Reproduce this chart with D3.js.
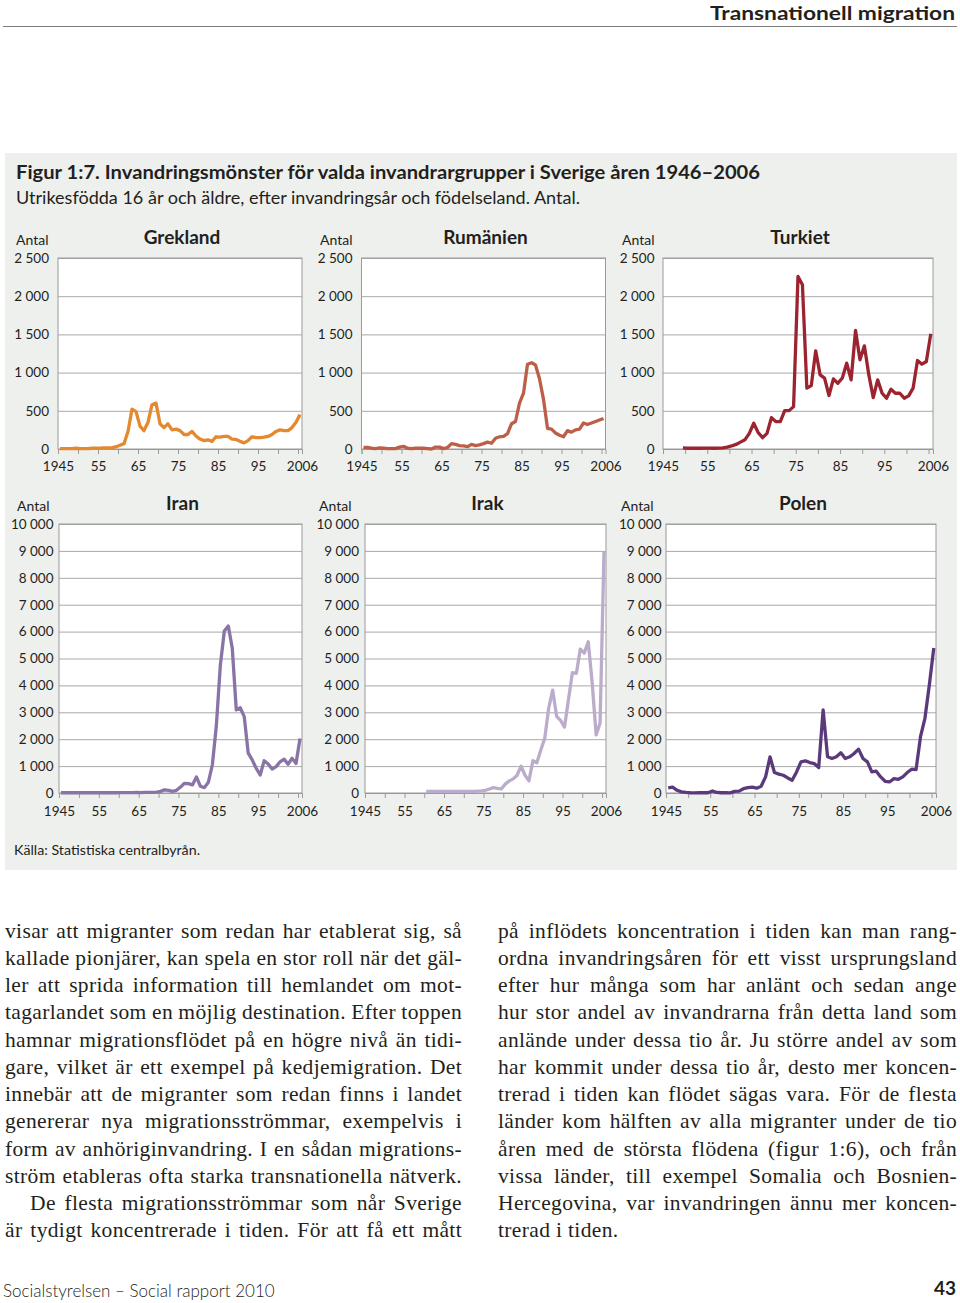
<!DOCTYPE html>
<html>
<head>
<meta charset="utf-8">
<script src="https://cdn.jsdelivr.net/npm/d3@7"></script>
<style>
  body { margin: 0; background: #fff; }
  svg { display: block; }
</style>
</head>
<body>
<div id="page"></div>
<script>
// Data: immigrants aged 16+ by year of immigration, 1946-2006
const years = d3.range(1946, 2007)

const grekland = [
  5, 5, 5, 5, 10, 5, 5, 5, 10, 10,
  10, 15, 15, 15, 30, 50, 70, 230, 520, 490,
  300, 240, 350, 580, 600, 330, 280, 330, 250, 260,
  240, 190, 190, 230, 170, 130, 110, 120, 100, 160,
  155, 165, 165, 130, 125, 100, 80, 110, 160, 150,
  150, 155, 165, 190, 230, 250, 240, 240, 280, 350, 450
]
const rumanien = [
  20, 20, 10, 5, 15, 10, 5, 5, 5, 25,
  35, 10, 5, 10, 10, 10, 5, 0, 25, 25,
  5, 20, 70, 60, 45, 40, 30, 60, 45, 55,
  70, 90, 75, 140, 160, 165, 200, 330, 360, 600,
  730, 1110, 1130, 1100, 920, 650, 270, 260, 210, 180,
  160, 240, 220, 250, 260, 340, 320, 340, 360, 380, 400
]
const turkiet = [
  null, null, null, null, 15, 10, 10, 10, 10, 12,
  12, 10, 12, 15, 25, 40, 60, 90, 120, 205,
  337, 214, 148, 205, 411, 358, 358, 502, 502, 555,
  2259, 2150, 796, 830, 1285, 970, 927, 700, 918, 861,
  927, 1124, 905, 1551, 1167, 1350, 970, 673, 905, 730,
  665, 783, 730, 730, 665, 695, 796, 1158, 1110, 1145, 1508
]
const iran = [
  10, 10, 10, 10, 10, 10, 10, 10, 10, 10,
  10, 10, 10, 10, 10, 15, 15, 15, 15, 20,
  15, 20, 25, 25, 30, 60, 120, 100, 60, 100,
  220, 360, 350, 300, 600, 250, 200, 400, 1050, 2500,
  4750, 6020, 6210, 5380, 3090, 3170, 2840, 1480, 1230, 920,
  670, 1200, 1080, 890, 980, 1160, 1260, 1070, 1290, 1100, 2030
]
const irak = [
  null, null, null, null, null, null, null, null, null, null,
  null, null, null, null, null, 60, 60, 60, 60, 60,
  60, 60, 60, 60, 60, 60, 60, 60, 70, 80,
  100, 150, 200, 170, 150, 330, 450, 525, 660, 1000,
  660, 450, 1200, 1125, 1600, 2040, 3160, 3825, 2850, 2700,
  2450, 3475, 4475, 4450, 5350, 5200, 5625, 4100, 2160, 2600, 8975
]
const polen = [
  190, 220, 100, 40, 20, 10, 5, 10, 10, 10,
  75, 20, 10, 10, 5, 60, 70, 160, 200, 220,
  180, 250, 600, 1345, 760, 700, 660, 560, 473, 784,
  1158, 1195, 1133, 1096, 946, 3088, 1345, 1282, 1345, 1494,
  1282, 1345, 1469, 1631, 1282, 1158, 784, 809, 598, 436,
  411, 535, 510, 598, 760, 884, 871, 2092, 2776, 4021, 5391
]

const countries = ['Grekland', 'Rumänien', 'Turkiet', 'Iran', 'Irak', 'Polen']
const series = [grekland, rumanien, turkiet, iran, irak, polen]
const yMax = [2500, 2500, 2500, 10000, 10000, 10000]
const yStep = [500, 500, 500, 1000, 1000, 1000]
const xLabelYears = [1945, 1955, 1965, 1975, 1985, 1995, 2006]
const xTickYears = d3.range(1945, 2006, 5)

// Layout and styles
const colors = ['#e3892f', '#bd5f48', '#9c2430', '#8a73a6', '#bcaccc', '#5b3a7b']
const panels = [
  { left: 58, right: 302, top: 258, bottom: 449, antalX: 16, gap: 9, pad: 12 },
  { left: 361.5, right: 605.5, top: 258, bottom: 449, antalX: 320, gap: 9, pad: 12 },
  { left: 663, right: 933, top: 258, bottom: 449, antalX: 622, gap: 8.5, pad: 12 },
  { left: 59, right: 302, top: 524, bottom: 793, antalX: 17, gap: 5.5, pad: 13 },
  { left: 365, right: 606, top: 524, bottom: 793, antalX: 319, gap: 6, pad: 13 },
  { left: 666, right: 936, top: 524, bottom: 793, antalX: 621, gap: 4.5, pad: 13 },
]

const sans = 'Lato, "Open Sans", sans-serif'
const serif = '"Liberation Serif", "DejaVu Serif", serif'
const textColor = '#231f20'

const locale = d3.formatLocale({ decimal: ',', thousands: '\u00a0', grouping: [3], currency: ['', ''] })
const numFormat = locale.format(',')

const svg = d3.select('#page')
  .append('svg')
    .attr('width', 960)
    .attr('height', 1303)

// Running header
svg.append('text')
  .attr('x', 955).attr('y', 19.5)
  .attr('text-anchor', 'end')
  .attr('textLength', 245).attr('lengthAdjust', 'spacingAndGlyphs')
  .style('font-family', sans).style('font-weight', 700).style('font-size', '19px')
  .attr('fill', textColor)
  .text('Transnationell migration')

svg.append('line')
  .attr('x1', 3).attr('x2', 957)
  .attr('y1', 26.5).attr('y2', 26.5)
  .attr('stroke', '#7a7a7a').attr('stroke-width', 1)

// Figure box
svg.append('rect')
  .attr('x', 5).attr('y', 153)
  .attr('width', 952).attr('height', 717)
  .attr('fill', '#eef0ee')

svg.append('text')
  .attr('x', 16).attr('y', 178.5)
  .attr('textLength', 744).attr('lengthAdjust', 'spacingAndGlyphs')
  .style('font-family', sans).style('font-weight', 700).style('font-size', '18.5px')
  .attr('fill', textColor)
  .text('Figur 1:7. Invandringsmönster för valda invandrargrupper i Sverige åren 1946–2006')

svg.append('text')
  .attr('x', 16).attr('y', 204)
  .attr('textLength', 564).attr('lengthAdjust', 'spacingAndGlyphs')
  .style('font-family', sans).style('font-size', '17px')
  .attr('fill', textColor)
  .text('Utrikesfödda 16 år och äldre, efter invandringsår och födelseland. Antal.')

svg.append('text')
  .attr('x', 14).attr('y', 855)
  .attr('textLength', 186).attr('lengthAdjust', 'spacingAndGlyphs')
  .style('font-family', sans).style('font-size', '14px')
  .attr('fill', textColor)
  .text('Källa: Statistiska centralbyrån.')

// Small multiples
const drawPanel = (p, i) => {
  const data = years.map((year, j) => ({ year: year, value: series[i][j] }))
  const width = p.right - p.left

  const xScale = d3.scaleLinear()
    .domain([1945, 2006])
    .range([p.left, p.right])

  const yScale = d3.scaleLinear()
    .domain([0, yMax[i]])
    .range([p.bottom, p.top])

  const yTicks = d3.range(0, yMax[i] + 1, yStep[i])
  const g = svg.append('g')

  g.append('rect')
    .attr('x', p.left).attr('y', p.top)
    .attr('width', width).attr('height', p.bottom - p.top)
    .attr('fill', '#fff')

  // gridlines
  const grid = g.append('g')
    .attr('transform', `translate(${p.left},0)`)
    .call(d3.axisLeft(yScale).tickValues(yTicks).tickSize(-width).tickFormat(''))
  grid.select('.domain').remove()
  grid.selectAll('line').attr('stroke', '#a9a9a9')

  g.append('rect')
    .attr('x', p.left).attr('y', p.top)
    .attr('width', width).attr('height', p.bottom - p.top)
    .attr('fill', 'none')
    .attr('stroke', '#9a9a9a')

  // y labels
  const yAxis = g.append('g')
    .attr('transform', `translate(${p.left},0)`)
    .call(d3.axisLeft(yScale).tickValues(yTicks).tickSize(0).tickPadding(p.gap).tickFormat(numFormat))
  yAxis.select('.domain').remove()
  yAxis.selectAll('text')
    .style('font-family', sans).style('font-size', '13.5px')
    .attr('fill', textColor)

  // x ticks and labels
  const xTicks = g.append('g')
    .attr('transform', `translate(0,${p.bottom})`)
    .call(d3.axisBottom(xScale).tickValues(xTickYears).tickSize(5).tickFormat(''))
  xTicks.select('.domain').attr('stroke', '#9a9a9a')
  xTicks.selectAll('line').attr('stroke', '#9a9a9a')

  const xAxis = g.append('g')
    .attr('transform', `translate(0,${p.bottom})`)
    .call(d3.axisBottom(xScale)
      .tickValues(xLabelYears)
      .tickSize(0)
      .tickPadding(p.pad)
      .tickFormat(d => (d === 1945 || d === 2006) ? String(d) : String(d).slice(2)))
  xAxis.select('.domain').remove()
  xAxis.selectAll('text')
    .style('font-family', sans).style('font-size', '13.5px')
    .attr('fill', textColor)

  // axis caption and panel title
  g.append('text')
    .attr('x', p.antalX).attr('y', p.top - 13)
    .style('font-family', sans).style('font-size', '14px')
    .attr('fill', textColor)
    .text('Antal')

  g.append('text')
    .attr('x', (p.left + p.right) / 2 + 2).attr('y', p.top - 14.5)
    .attr('text-anchor', 'middle')
    .style('font-family', sans).style('font-weight', 700).style('font-size', '19px')
    .attr('fill', textColor)
    .text(countries[i])

  // line, points centred in each year's slot
  const lineGenerator = d3.line()
    .defined(d => d.value !== null)
    .x(d => xScale(d.year - 0.5))
    .y(d => yScale(d.value))

  g.append('path')
    .attr('d', lineGenerator(data))
    .attr('fill', 'none')
    .attr('stroke', colors[i])
    .attr('stroke-width', 3.3)
    .attr('stroke-linejoin', 'round')
}

panels.forEach(drawPanel)

// Body text, two justified columns
const leftLines = [
  'visar att migranter som redan har etablerat sig, så',
  'kallade pionjärer, kan spela en stor roll när det gäl-',
  'ler att sprida information till hemlandet om mot-',
  'tagarlandet som en möjlig destination. Efter toppen',
  'hamnar migrationsflödet på en högre nivå än tidi-',
  'gare, vilket är ett exempel på kedjemigration. Det',
  'innebär att de migranter som redan finns i landet',
  'genererar nya migrationsströmmar, exempelvis i',
  'form av anhöriginvandring. I en sådan migrations-',
  'ström etableras ofta starka transnationella nätverk.',
  'De flesta migrationsströmmar som når Sverige',
  'är tydigt koncentrerade i tiden. För att få ett mått',
]
const rightLines = [
  'på inflödets koncentration i tiden kan man rang-',
  'ordna invandringsåren för ett visst ursprungsland',
  'efter hur många som har anlänt och sedan ange',
  'hur stor andel av invandrarna från detta land som',
  'anlände under dessa tio år. Ju större andel av som',
  'har kommit under dessa tio år, desto mer koncen-',
  'trerad i tiden kan flödet sägas vara. För de flesta',
  'länder kom hälften av alla migranter under de tio',
  'åren med de största flödena (figur 1:6), och från',
  'vissa länder, till exempel Somalia och Bosnien-',
  'Hercegovina, var invandringen ännu mer koncen-',
  'trerad i tiden.',
]

const drawColumn = (lines, x0, x1, indentRow, lastRagged) => {
  lines.forEach((line, k) => {
    const start = k === indentRow ? x0 + 25 : x0
    const t = svg.append('text')
      .attr('x', start).attr('y', 937.5 + k * 27.27)
      .style('font-family', serif).style('font-size', '21.5px')
      .style('letter-spacing', '0.35px')
      .attr('fill', textColor)
      .text(line)
    if (lastRagged && k === lines.length - 1) return
    const natural = t.node().getComputedTextLength()
    const spaces = (line.match(/ /g) || []).length
    if (spaces > 0) {
      t.style('word-spacing', `${(x1 - start - natural) / spaces}px`)
    }
  })
}

drawColumn(leftLines, 5, 462, 10, false)
drawColumn(rightLines, 498, 957, -1, true)

// Footer
svg.append('text')
  .attr('x', 3).attr('y', 1297)
  .style('font-family', sans).style('font-weight', 300).style('font-size', '17px')
  .attr('fill', textColor)
  .text('Socialstyrelsen – Social rapport 2010')

svg.append('text')
  .attr('x', 956).attr('y', 1295)
  .attr('text-anchor', 'end')
  .style('font-family', sans).style('font-weight', 700).style('font-size', '19px')
  .attr('fill', textColor)
  .text('43')
</script>
</body>
</html>
